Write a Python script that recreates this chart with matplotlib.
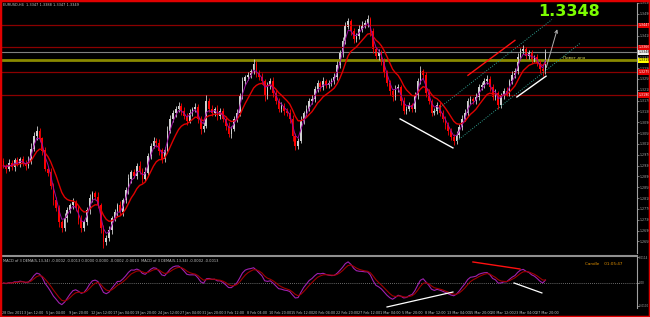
import numpy as np
import pandas as pd
import matplotlib
matplotlib.use("Agg")
import matplotlib.pyplot as plt
from matplotlib.patches import Rectangle

# EURUSD 8-hour candles (two H4 bars each), prices in pips
close_pips = [
    12929, 12918, 12940, 12926, 12948, 12937, 12955, 12940, 12929, 12948,
    12992, 13040, 13058, 13029, 12985, 12918, 12904, 12856, 12801, 12772,
    12720, 12698, 12735, 12764, 12783, 12794, 12772, 12728, 12698, 12720,
    12764, 12808, 12827, 12812, 12783, 12698, 12647, 12662, 12691, 12735,
    12757, 12783, 12757, 12801, 12838, 12882, 12904, 12893, 12929, 12911,
    12882, 12904, 12966, 13003, 13021, 13014, 12985, 12955, 12985, 13058,
    13102, 13124, 13139, 13150, 13131, 13113, 13095, 13124, 13139, 13146,
    13102, 13065, 13076, 13168, 13139, 13124, 13139, 13113, 13131, 13102,
    13076, 13047, 13065, 13102, 13124, 13186, 13241, 13256, 13263, 13278,
    13304, 13271, 13256, 13241, 13186, 13223, 13241, 13197, 13168, 13139,
    13150, 13131, 13124, 13102, 13040, 13003, 13021, 13095, 13124, 13139,
    13168, 13175, 13212, 13234, 13219, 13241, 13227, 13234, 13241, 13256,
    13300, 13344, 13388, 13443, 13462, 13425, 13396, 13407, 13432, 13447,
    13454, 13469, 13425, 13359, 13333, 13344, 13315, 13271, 13234, 13205,
    13183, 13212, 13219, 13168, 13131, 13139, 13153, 13139, 13186, 13241,
    13278, 13263, 13197, 13168, 13124, 13131, 13153, 13124, 13102, 13080,
    13058, 13036, 13021, 13043, 13073, 13102, 13124, 13168, 13175, 13168,
    13183, 13219, 13227, 13241, 13249, 13219, 13183, 13197, 13153, 13186,
    13205, 13197, 13241, 13263, 13278, 13329, 13352, 13359, 13333, 13344,
    13322, 13329, 13307, 13285, 13278, 13348,
]
# wick lengths above / below the body, pips
upper_wick = [
    12, 8, 15, 10, 9, 14, 7, 11, 10, 16,
    20, 14, 18, 10, 8, 12, 9, 15, 10, 12,
    14, 8, 20, 11, 9, 16, 10, 12, 18, 9,
    12, 15, 8, 10, 20, 9, 14, 11, 16, 10,
    13, 9, 15, 10, 12, 18, 8, 14, 11, 16,
    10, 20, 12, 9, 15, 11, 14, 8, 12, 18,
    15, 10, 12, 16, 9, 14, 11, 13, 8, 15,
    12, 9, 14, 22, 10, 13, 8, 15, 11, 12,
    9, 14, 10, 12, 16, 11, 15, 9, 13, 10,
    18, 12, 10, 15, 9, 14, 11, 16, 10, 12,
    14, 9, 11, 13, 15, 10, 12, 18, 9, 14,
    11, 15, 10, 12, 9, 16, 10, 13, 11, 14,
    16, 12, 15, 18, 14, 10, 13, 12, 15, 16,
    12, 18, 10, 14, 9, 15, 11, 12, 10, 13,
    9, 14, 12, 10, 15, 11, 13, 9, 16, 12,
    18, 10, 12, 14, 9, 13, 11, 15, 10, 12,
    9, 12, 10, 14, 11, 13, 15, 10, 12, 9,
    14, 11, 13, 12, 15, 10, 12, 14, 9, 13,
    11, 14, 10, 15, 13, 18, 12, 16, 10, 14,
    12, 10, 13, 11, 9, 12,
]
lower_wick = [
    10, 14, 9, 12, 15, 8, 13, 10, 16, 9,
    12, 9, 14, 11, 16, 10, 13, 12, 15, 11,
    16, 14, 9, 12, 10, 13, 11, 15, 12, 10,
    9, 12, 14, 10, 11, 16, 20, 12, 9, 13,
    11, 14, 10, 12, 9, 13, 15, 10, 12, 14,
    16, 9, 12, 13, 10, 15, 18, 14, 11, 10,
    9, 12, 14, 10, 13, 11, 15, 9, 12, 10,
    14, 18, 10, 9, 12, 11, 13, 16, 10, 12,
    15, 12, 14, 9, 11, 10, 12, 14, 9, 11,
    10, 13, 12, 11, 18, 9, 12, 14, 11, 13,
    12, 14, 10, 16, 20, 15, 11, 9, 12, 10,
    9, 11, 12, 10, 14, 9, 12, 10, 11, 9,
    10, 9, 12, 11, 10, 14, 12, 10, 11, 9,
    10, 12, 16, 14, 11, 12, 15, 13, 10, 14,
    16, 11, 12, 14, 10, 12, 9, 11, 10, 12,
    10, 13, 14, 12, 11, 9, 12, 13, 11, 14,
    15, 12, 16, 10, 12, 11, 9, 10, 12, 11,
    10, 12, 9, 11, 10, 14, 12, 10, 15, 9,
    11, 10, 12, 9, 10, 11, 9, 12, 10, 11,
    12, 10, 11, 14, 16, 10,
]
first_open = 1.2945

date_labels = ["28 Dec 2011", "3 Jan 12:00", "5 Jan 04:00", "9 Jan 20:00",
               "12 Jan 12:00", "17 Jan 04:00", "19 Jan 20:00", "24 Jan 12:00",
               "27 Jan 04:00", "31 Jan 20:00", "3 Feb 12:00", "8 Feb 04:00",
               "10 Feb 20:00", "15 Feb 12:00", "20 Feb 04:00", "22 Feb 20:00",
               "27 Feb 12:00", "1 Mar 04:00", "5 Mar 20:00", "8 Mar 12:00",
               "13 Mar 04:00", "15 Mar 20:00", "20 Mar 12:00", "23 Mar 04:00",
               "27 Mar 20:00"]
price_ticks = [1.2650, 1.2690, 1.2730, 1.2770, 1.2810, 1.2850, 1.2890, 1.2930,
               1.2970, 1.3010, 1.3050, 1.3090, 1.3130, 1.3170, 1.3210, 1.3250,
               1.3290, 1.3330, 1.3370, 1.3410, 1.3450, 1.3490, 1.3530]
macd_ticks = [0.0114, 0.0, -0.0100]

# horizontal levels drawn on the chart
red_levels = [1.3447, 1.3366, 1.3275, 1.3190]
bid_price = 1.3348
pivot_price = 1.3319

# trend lines: (bar, price) pairs
white_lines = [[(142.7, 1.3102), (161.7, 1.2995)],
               [(184.7, 1.3183), (195.2, 1.3260)]]
red_line = [(167.1, 1.3263), (184.0, 1.3392)]
channel_lines = [[(154.5, 1.3124), (197.3, 1.3469)],
                 [(163.2, 1.3021), (207.4, 1.3381)]]
arrow_line = [(195.0, 1.3282), (199.5, 1.3443)]

# MACD panel drawings: (bar, value)
macd_white = [[(138.0, -0.0106), (161.7, -0.0040)],
              [(183.7, 0.0000), (193.7, -0.0044)]]
macd_red = [(168.9, 0.0093), (185.8, 0.0062)]

closes = np.array(close_pips) / 10000
opens = np.r_[first_open, closes[:-1]]
highs = np.maximum(opens, closes) + np.array(upper_wick) / 10000
lows = np.minimum(opens, closes) - np.array(lower_wick) / 10000
bars = np.arange(len(closes))

s = pd.Series(closes)
ma_fast = s.ewm(span=3, adjust=False).mean()
ma_slow = s.ewm(span=10, adjust=False).mean()
macd = s.ewm(span=4, adjust=False).mean() - s.ewm(span=12, adjust=False).mean()
signal = macd.ewm(span=4, adjust=False).mean()

W, H = 650, 317
fig = plt.figure(figsize=(W / 100, H / 100), dpi=100, facecolor="black")
ax = fig.add_axes([2 / W, 1 - 253 / H, 635 / W, 250 / H], facecolor="black")
ax2 = fig.add_axes([2 / W, 1 - 308 / H, 635 / W, 52 / H], facecolor="black")

xmax = 635 / 2.78 - 0.5
for a in (ax, ax2):
    a.set_xlim(-0.5, xmax)
    for sp in a.spines.values():
        sp.set_visible(False)
    a.spines["right"].set_visible(True)
    a.spines["right"].set_color("#a0a0a0")
    a.spines["right"].set_linewidth(0.8)
    a.yaxis.tick_right()
    a.tick_params(axis="y", colors="#a8a8a8", labelsize=2.3, length=1.2,
                  width=0.5, pad=0.6)
    a.set_xticks([])
ax2.tick_params(axis="y", labelsize=2.0, pad=0.4)
ax2.spines["top"].set_visible(True)
ax2.spines["top"].set_color("#909090")
ax2.spines["top"].set_linewidth(1.5)

# price levels
for lv in red_levels:
    ax.axhline(lv, color="#8b0000", lw=0.9)
ax.axhline(bid_price, color="#808080", lw=0.8)
ax.axhline(pivot_price, color="#8a8a00", lw=2.0)

# candles
up = closes >= opens
bull_c, bear_c = "#d0d0d0", "#ff0000"
colors = np.where(up, bull_c, bear_c)
ax.vlines(bars, lows, highs, colors=colors, lw=0.6)
ax.bar(bars, np.abs(closes - opens) + 0.00008, bottom=np.minimum(opens, closes),
       width=0.6, color=colors, edgecolor="none")

ax.plot(bars, ma_slow, color="#e00000", lw=1.0)
ax.plot(bars, ma_fast, color="#9a0aa0", lw=0.7)

for ln in white_lines:
    ax.plot(*zip(*ln), color="white", lw=1.0)
ax.plot(*zip(*red_line), color="#ff1010", lw=1.0)
for ln in channel_lines:
    ax.plot(*zip(*ln), color="#30a090", lw=0.7, ls=(0, (1, 1.5)))
ax.annotate("", xy=arrow_line[1], xytext=arrow_line[0],
            arrowprops=dict(arrowstyle="->", color="#b0b0b0", lw=0.7,
                            mutation_scale=5))
ax.text(201.3, 1.3330, "Пивот дня", color="#d6d660", fontsize=3.0,
        va="center", ha="left")

ax.set_ylim(1.2607, 1.3524)
ax.set_yticks(price_ticks)
ax.set_yticklabels([f"{p:.4f}" for p in price_ticks])

# boxed price labels on the right scale
def price_box(a, y, txt, fc, tc):
    a.text(1.0025, y, txt, transform=a.get_yaxis_transform(), fontsize=2.3,
           color=tc, va="center", ha="left",
           bbox=dict(boxstyle="square,pad=0.2", fc=fc, ec="none"))

for lv in red_levels:
    price_box(ax, lv, f"{lv:.4f}", "#e00000", "white")
price_box(ax, bid_price, f"{bid_price:.4f}", "#f0f0f0", "black")
price_box(ax, pivot_price, f"{pivot_price:.4f}", "#ffff00", "black")

# MACD panel
ax2.axhline(0, color="#8c8c8c", lw=0.6, ls=(0, (1, 1.5)))
ax2.plot(bars, macd, color="#a020b0", lw=0.8)
ax2.plot(bars, signal, color="#a00000", lw=0.8)
for ln in macd_white:
    ax2.plot(*zip(*ln), color="white", lw=0.9)
ax2.plot(*zip(*macd_red), color="#ff1010", lw=1.0)
ax2.set_ylim(-0.01106, 0.01194)
ax2.set_yticks(macd_ticks)
ax2.set_yticklabels([f"{v:.4f}" if v else "0.00" for v in macd_ticks])
ax2.text(0.002, 0.94, "MACD of 3 DEMA(5,13,34) -0.0002 -0.0013 0.0000 0.0000 "
         "-0.0002 -0.0013  MACD of 3 DEMA(5,13,34) -0.0002 -0.0013",
         transform=ax2.transAxes, fontsize=2.6, color="#c0c0c0", va="top")
ax2.text(0.918, 0.88, "Candle    01:05:47", transform=ax2.transAxes,
         fontsize=3.0, color="#e09000", va="top", ha="left")

for k, lab in enumerate(date_labels):
    ax2.text(8 * k - 0.5, -0.06, lab, transform=ax2.get_xaxis_transform(),
             fontsize=2.4, color="#c0c0c0", ha="left", va="top")

# header texts
fig.text(3 / W, 1 - 5 / H, "EURUSD,H4  1.3347 1.3388 1.3347 1.3349",
         fontsize=2.5, color="#c8c8c8", va="center", ha="left")
fig.text(569 / W, 1 - 11 / H, "1.3348", fontsize=11.5, fontweight="bold",
         color="#7cfc00", va="center", ha="center")

# red frame of the chart window
fig.patches.append(Rectangle((0, 0), 1, 1, transform=fig.transFigure,
                             fill=False, ec="#e00000", lw=2.5))

fig.savefig("out.png", dpi=100, facecolor="black")
